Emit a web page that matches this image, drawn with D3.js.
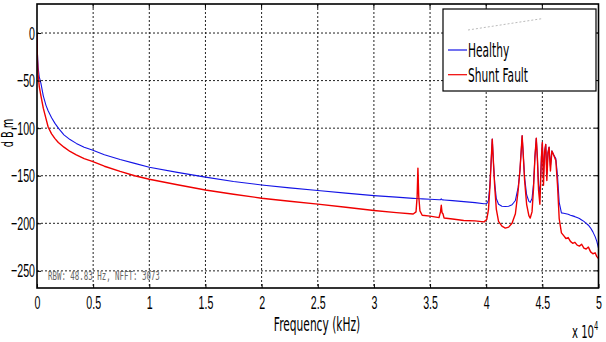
<!DOCTYPE html>
<html>
<head>
<meta charset="utf-8">
<script src="https://cdn.jsdelivr.net/npm/d3@7"></script>
<style>
  body { margin: 0; background: #fff; }
  svg { display: block; }
</style>
</head>
<body>
<div id="chart"></div>
<script>
// frequency grid (Hz) shared by both traces
var freqHz = [0, 40, 100, 200, 350, 560, 800, 1000, 1300, 1600,
    1900, 2400, 2940, 3500, 4200, 4920, 6000, 7400, 8700, 10000,
    12500, 15000, 17500, 20000, 22500, 25000, 27500, 30000, 32000, 33500,
    33750, 33850, 33920, 33990, 34100, 34300, 35000, 35800, 35930, 36000,
    36070, 36150, 36250, 37000, 38000, 39000, 39800, 40050, 40200, 40330,
    40440, 40540, 40640, 40760, 40900, 41100, 41400, 41700, 42000, 42300,
    42600, 42850, 43000, 43110, 43200, 43300, 43420, 43600, 43800, 43920,
    44080, 44220, 44340, 44460, 44560, 44660, 44780, 44920, 45000, 45100,
    45200, 45300, 45400, 45500, 45600, 45720, 45850, 46000, 46200, 46350,
    46500, 46700, 46900, 47100, 47300, 47500, 47700, 47900, 48100, 48300,
    48500, 48700, 48900, 49100, 49300, 49500, 49700, 49850, 50000];

var healthyDbm = [0, -22, -36, -46, -53, -66, -76, -82, -89, -95,
    -100, -107, -112, -116, -120, -123, -128, -133, -137, -141,
    -146.5, -151.5, -156, -159.7, -162.8, -165.6, -168.3, -170.9, -172.5, -173.8,
    -174, -174, -174, -174.1, -174.2, -174.3, -174.7, -175.3, -175.2, -174.3,
    -175.3, -175.4, -175.5, -176.2, -177.2, -178.3, -179.4, -179.2, -176, -160,
    -135, -111.5, -135, -158, -174, -180, -182, -182.4, -182, -180.5,
    -176, -162, -145, -125, -108, -128, -152, -170, -177, -178,
    -174, -158, -130, -110.6, -132, -160, -168, -130, -115, -150,
    -125, -117, -148, -126, -120, -140, -124, -128, -132, -150,
    -178, -189, -189.5, -190, -190.5, -191.5, -192.2, -193, -194, -195,
    -196.5, -198, -200, -202, -205, -209, -214, -219, -226];

var shuntFaultDbm = [0, -28, -44, -56, -66, -79, -90, -99, -106, -111,
    -115, -120, -124.5, -128, -132, -135, -140, -145.5, -150, -153.7,
    -159.5, -165, -169.5, -173.6, -176.8, -179.8, -183.2, -186.6, -188.8, -190.2,
    -188, -172, -142, -171, -187, -191.5, -192.5, -194, -188, -181,
    -189, -190, -194.5, -195.5, -197, -197.5, -198.5, -196, -186, -162,
    -135, -111.5, -135, -162, -185, -198, -203, -205, -204, -200,
    -190, -165, -145, -125, -108, -128, -155, -180, -192, -194.5,
    -188, -162, -130, -110.6, -132, -165, -180, -130, -115, -160,
    -125, -117, -155, -126, -120, -145, -124, -128, -134, -160,
    -195, -210, -213, -216, -215, -219, -221, -220, -223, -224,
    -222, -226, -227, -225, -230, -232, -231, -235, -237];

var xTicks = [0, 5000, 10000, 15000, 20000, 25000, 30000, 35000, 40000, 45000, 50000];
var yTicks = [-250, -200, -150, -100, -50, 0];
var seriesNames = ["Healthy", "Shunt Fault"];
var seriesColors = ["#1414e6", "#f00000"];

function init() {

    var w = 606;
    var h = 342;
    var left = 37, right = 598.5, top = 4, bottom = 288;
    var squash = 0.56;   // the text in the picture is narrowed sideways

    var xScale = d3.scaleLinear()
                   .domain([0, 50000])
                   .range([left, right]);

    var yScale = d3.scaleLinear()
                   .domain([-268, 30.5])
                   .range([bottom, top]);

    var svg = d3.select("#chart")
                .append("svg")
                .attr("width", w)
                .attr("height", h)
                .style("font-family", "'DejaVu Sans', sans-serif");

    // dotted grid
    var grid = svg.append("g");
    grid.selectAll("line.gx")
        .data(xTicks.slice(1, -1))
        .enter()
        .append("line")
        .attr("x1", function(d) { return xScale(d); })
        .attr("x2", function(d) { return xScale(d); })
        .attr("y1", top)
        .attr("y2", bottom)
        .attr("stroke", "#222")
        .attr("stroke-width", 1)
        .attr("stroke-dasharray", "2,2");
    grid.selectAll("line.gy")
        .data(yTicks)
        .enter()
        .append("line")
        .attr("x1", left)
        .attr("x2", right)
        .attr("y1", function(d) { return yScale(d); })
        .attr("y2", function(d) { return yScale(d); })
        .attr("stroke", "#222")
        .attr("stroke-width", 1)
        .attr("stroke-dasharray", "2,2");

    // traces, red on top
    var traces = [healthyDbm, shuntFaultDbm];
    var line = d3.line()
                 .x(function(d, i) { return xScale(freqHz[i]); })
                 .y(function(d) { return yScale(d); });

    svg.append("defs").append("clipPath")
       .attr("id", "plotclip")
       .append("rect")
       .attr("x", left).attr("y", top)
       .attr("width", right - left).attr("height", bottom - top);

    svg.append("g")
       .attr("clip-path", "url(#plotclip)")
       .selectAll("path")
       .data(traces)
       .enter()
       .append("path")
       .attr("d", function(d) { return line(d); })
       .attr("fill", "none")
       .attr("stroke", function(d, i) { return seriesColors[i]; })
       .attr("stroke-width", function(d, i) { return i == 0 ? 1.1 : 1.4; })
       .attr("stroke-linejoin", "round");

    // axes with inward ticks
    var xAxis = d3.axisBottom(xScale)
                  .tickValues(xTicks)
                  .tickSizeInner(-4)
                  .tickSizeOuter(0)
                  .tickPadding(8)
                  .tickFormat(function(d) { return d / 10000; });
    var gx = svg.append("g")
                .attr("transform", "translate(0," + bottom + ")")
                .call(xAxis);
    gx.select(".domain").remove();
    gx.selectAll("line").attr("stroke", "#000");
    gx.selectAll("text")
      .attr("fill", "#000")
      .style("font-size", "19px")
      .attr("transform", "scale(" + squash + ",1)");

    var yAxis = d3.axisLeft(yScale)
                  .tickValues(yTicks)
                  .tickSizeInner(-4)
                  .tickSizeOuter(0)
                  .tickPadding(2);
    var gy = svg.append("g")
                .attr("transform", "translate(" + left + ",0)")
                .call(yAxis);
    gy.select(".domain").remove();
    gy.selectAll("line").attr("stroke", "#000");
    gy.selectAll("text")
      .attr("fill", "#000")
      .attr("x", -2 / squash)
      .style("font-size", "19px")
      .attr("transform", "scale(" + squash + ",1)");

    // ticks on top and right edges
    svg.append("g").selectAll("line")
       .data(xTicks.slice(1, -1))
       .enter()
       .append("line")
       .attr("x1", function(d) { return xScale(d); })
       .attr("x2", function(d) { return xScale(d); })
       .attr("y1", top)
       .attr("y2", top + 4)
       .attr("stroke", "#000");
    svg.append("g").selectAll("line")
       .data(yTicks)
       .enter()
       .append("line")
       .attr("x1", right - 4)
       .attr("x2", right)
       .attr("y1", function(d) { return yScale(d); })
       .attr("y2", function(d) { return yScale(d); })
       .attr("stroke", "#000");

    // frame
    svg.append("rect")
       .attr("x", left)
       .attr("y", top)
       .attr("width", right - left)
       .attr("height", bottom - top)
       .attr("fill", "none")
       .attr("stroke", "#000")
       .attr("stroke-width", 1.6);

    // axis titles
    svg.append("text")
       .attr("transform", "translate(317,331) scale(" + squash + ",1)")
       .attr("text-anchor", "middle")
       .style("font-size", "19px")
       .text("Frequency (kHz)");

    var expo = svg.append("text")
       .attr("transform", "translate(572,338) scale(" + squash + ",1)")
       .style("font-size", "18px");
    expo.append("tspan").text("x 10");
    expo.append("tspan")
        .attr("dy", -8)
        .style("font-size", "12px")
        .text("4");

    svg.append("text")
       .attr("transform", "translate(13,133) rotate(-90) scale(0.65,1)")
       .attr("text-anchor", "middle")
       .style("font-size", "15px")
       .text("d B m");

    // settings note in the plot corner
    svg.append("text")
       .attr("transform", "translate(48,280) scale(0.62,1)")
       .attr("fill", "#666")
       .style("font-family", "'DejaVu Sans Mono', monospace")
       .style("font-size", "12px")
       .text("RBW: 48.83 Hz, NFFT: 3073");

    // legend
    var legend = svg.append("g");
    legend.append("rect")
          .attr("x", 443)
          .attr("y", 9)
          .attr("width", 153)
          .attr("height", 82)
          .attr("fill", "#fff")
          .attr("stroke", "#000")
          .attr("stroke-width", 1.2);
    legend.append("line")
          .attr("x1", 468).attr("y1", 30)
          .attr("x2", 543).attr("y2", 18.5)
          .attr("stroke", "#bbb")
          .attr("stroke-width", 1)
          .attr("stroke-dasharray", "2,2");
    var items = legend.selectAll("g.item")
          .data(seriesNames)
          .enter()
          .append("g")
          .attr("transform", function(d, i) { return "translate(0," + (50 + i * 24.7) + ")"; });
    items.append("line")
         .attr("x1", 448).attr("x2", 467)
         .attr("y1", 0).attr("y2", 0)
         .attr("stroke", function(d, i) { return seriesColors[i]; })
         .attr("stroke-width", 1.2);
    items.append("text")
         .attr("transform", "translate(468,7) scale(" + squash + ",1)")
         .style("font-size", "19px")
         .text(function(d) { return d; });
}

window.onload = init;
</script>
</body>
</html>
